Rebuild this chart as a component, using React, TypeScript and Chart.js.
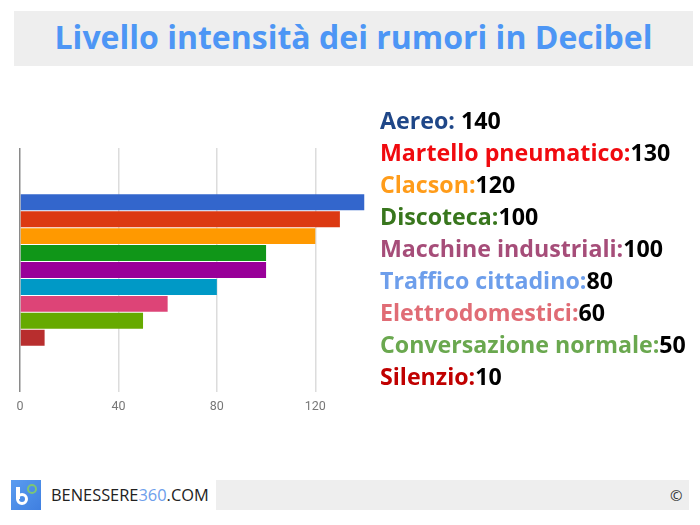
import React, { useEffect, useRef } from "react";
import { Chart, registerables } from "chart.js";

Chart.register(...registerables);

const labels = ["Aereo", "Martello pneumatico", "Clacson", "Discoteca", "Macchine industriali", "Traffico cittadino", "Elettrodomestici", "Conversazione normale", "Silenzio"];
const values = [140, 130, 120, 100, 100, 80, 60, 50, 10];
const barColors = ["#3366cc", "#dc3912", "#ff9900", "#109618", "#990099", "#0099c6", "#dd4477", "#66aa00", "#b82e2e"];
const textColors = ["#1f4788", "#f00a0f", "#ff9c1a", "#38761d", "#a64d79", "#6d9eeb", "#e06c75", "#6aa84f", "#c00000"];
const separators = [" ", "", "", "", "", "", "", "", ""];
const category = ["Decibel"];
const tickValues = [0, 40, 80, 120];
const title = "Livello intensità dei rumori in Decibel";

const abs = (left: number, top: number, width: number, height: number): React.CSSProperties => ({
  position: "absolute", left, top, width, height,
});

export default function App() {
  const ref = useRef<HTMLCanvasElement>(null);
  useEffect(() => {
    const chart = new Chart(ref.current!, {
      type: "bar",
      data: {
        labels: category,
        datasets: labels.map((label, i) => ({
          label,
          data: [values[i]],
          backgroundColor: barColors[i],
          categoryPercentage: 0.625,
          barPercentage: 0.94,
        })),
      },
      options: {
        indexAxis: "y",
        responsive: false,
        animation: false,
        layout: { padding: { left: 20, right: 335.5, top: 148, bottom: 104 } },
        plugins: { legend: { display: false }, title: { display: false }, tooltip: { enabled: false } },
        scales: {
          x: {
            min: 0,
            max: 140,
            border: { display: false },
            afterBuildTicks: (axis: any) => {
              axis.ticks = tickValues.map((value) => ({ value }));
            },
            grid: {
              color: (c: any) => (c.tick.value === 0 ? "#8a8a8a" : "#dcdcdc"),
              lineWidth: 1.5,
              drawTicks: false,
            },
            ticks: {
              color: "#777777",
              padding: 7,
              maxRotation: 0,
              font: { family: "Roboto", size: 12.5 },
            },
          },
          y: { display: false },
        },
      },
    });
    return () => chart.destroy();
  }, []);

  return (
    <div style={{ position: "fixed", left: 0, top: 0, width: 700, height: 525, background: "#fff", fontFamily: "'Open Sans', sans-serif", overflow: "hidden" }}>
      <div style={{ ...abs(14, 11, 679, 55), background: "#eeeeee", color: "#4d96f5", fontSize: 32, fontWeight: 700, lineHeight: "52px", textAlign: "center" }}>{title}</div>
      <canvas ref={ref} width={700} height={525} style={{ ...abs(0, 0, 700, 525), display: "block" }} />
      {labels.map((label, i) => (
        <div key={label} style={{ ...abs(380, 103.5 + i * 32.1, 320, 32), fontSize: 23.2, fontWeight: 700, lineHeight: "32px", whiteSpace: "nowrap" }}>
          <span style={{ color: textColors[i] }}>{label}:</span>
          <span style={{ color: "#000" }}>{separators[i]}{values[i]}</span>
        </div>
      ))}
      <div style={{ ...abs(11, 480, 678, 30), background: "#eeeeee" }} />
      <div style={{ ...abs(41, 480, 175, 30), background: "#fff" }} />
      <div style={{ ...abs(11, 480, 30, 30), background: "linear-gradient(135deg, #5a9cf0, #3f7fe0)" }} />
      <div style={{ ...abs(16, 487, 3.5, 12), background: "#fff" }} />
      <div style={{ ...abs(16, 493, 12, 12), border: "3.5px solid #fff", borderRadius: "50%", boxSizing: "border-box" }} />
      <div style={{ ...abs(27, 484, 10, 10), border: "2.5px solid #7cc576", borderRadius: "50%", boxSizing: "border-box" }} />
      <div style={{ ...abs(51, 480, 165, 30), fontSize: 16.4, lineHeight: "30px", color: "#222", whiteSpace: "nowrap" }}>
        BENESSERE<span style={{ color: "#6d9eeb" }}>360</span>.COM
      </div>
      <div style={{ ...abs(670, 480, 16, 30), fontSize: 15, lineHeight: "30px", color: "#333" }}>©</div>
    </div>
  );
}
